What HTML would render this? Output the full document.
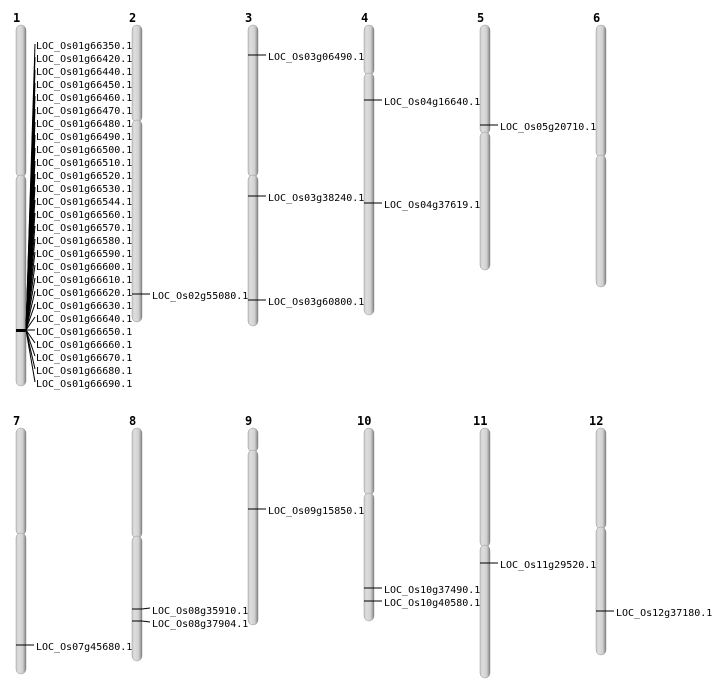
<!DOCTYPE html>
<html><head><meta charset="utf-8"><style>
html,body{margin:0;padding:0;background:#fff;}
svg{display:block}
text{font-family:"DejaVu Sans Mono","Liberation Mono",monospace;font-size:10px;fill:#000}
.n{font-weight:bold;font-size:12px}
.c{fill:url(#g);stroke:#999;stroke-width:0.5}
line{stroke:#000;stroke-width:1}
</style></head><body>
<svg width="712" height="700" viewBox="0 0 712 700" xmlns="http://www.w3.org/2000/svg">
<defs><linearGradient id="g" x1="0" x2="1" y1="0" y2="0">
<stop offset="0" stop-color="#c8c8c8"/><stop offset="0.25" stop-color="#dedede"/><stop offset="0.65" stop-color="#d2d2d2"/><stop offset="0.85" stop-color="#a8a8a8"/><stop offset="1" stop-color="#707070"/></linearGradient></defs>
<!-- numbers -->
<text class="n" x="13" y="22">1</text><text class="n" x="129" y="22">2</text><text class="n" x="245" y="22">3</text><text class="n" x="361" y="22">4</text><text class="n" x="477" y="22">5</text><text class="n" x="593" y="22">6</text>
<text class="n" x="13" y="425">7</text><text class="n" x="129" y="425">8</text><text class="n" x="245" y="425">9</text><text class="n" x="357" y="425">10</text><text class="n" x="473" y="425">11</text><text class="n" x="589" y="425">12</text>
<!-- chromosomes -->
<rect class="c" x="16" y="25" width="10" height="152" rx="5"/><rect class="c" x="16" y="175" width="10" height="211" rx="5"/>
<rect class="c" x="132" y="25" width="10" height="97" rx="5"/><rect class="c" x="132" y="120" width="10" height="202" rx="5"/>
<rect class="c" x="248" y="25" width="10" height="152" rx="5"/><rect class="c" x="248" y="175" width="10" height="151" rx="5"/>
<rect class="c" x="364" y="25" width="10" height="50" rx="5"/><rect class="c" x="364" y="73" width="10" height="242" rx="5"/>
<rect class="c" x="480" y="25" width="10" height="109" rx="5"/><rect class="c" x="480" y="132" width="10" height="138" rx="5"/>
<rect class="c" x="596" y="25" width="10" height="132" rx="5"/><rect class="c" x="596" y="155" width="10" height="132" rx="5"/>
<rect class="c" x="16" y="428" width="10" height="107" rx="5"/><rect class="c" x="16" y="533" width="10" height="141" rx="5"/>
<rect class="c" x="132" y="428" width="10" height="110" rx="5"/><rect class="c" x="132" y="536" width="10" height="125" rx="5"/>
<rect class="c" x="248" y="428" width="10" height="24" rx="5"/><rect class="c" x="248" y="450" width="10" height="175" rx="5"/>
<rect class="c" x="364" y="428" width="10" height="67" rx="5"/><rect class="c" x="364" y="493" width="10" height="128" rx="5"/>
<rect class="c" x="480" y="428" width="10" height="119" rx="5"/><rect class="c" x="480" y="545" width="10" height="133" rx="5"/>
<rect class="c" x="596" y="428" width="10" height="101" rx="5"/><rect class="c" x="596" y="527" width="10" height="128" rx="5"/>
<!-- chr1 fan -->
<rect x="16" y="329" width="11" height="3" fill="#000"/>
<g>
<line x1="26" y1="330" x2="35" y2="44"/><line x1="26" y1="330" x2="35" y2="57"/><line x1="26" y1="330" x2="35" y2="70"/><line x1="26" y1="330" x2="35" y2="83"/><line x1="26" y1="330" x2="35" y2="96"/><line x1="26" y1="330" x2="35" y2="109"/><line x1="26" y1="330" x2="35" y2="122"/><line x1="26" y1="330" x2="35" y2="135"/><line x1="26" y1="330" x2="35" y2="148"/><line x1="26" y1="330" x2="35" y2="161"/><line x1="26" y1="330" x2="35" y2="174"/><line x1="26" y1="330" x2="35" y2="187"/><line x1="26" y1="330" x2="35" y2="200"/><line x1="26" y1="330" x2="35" y2="213"/><line x1="26" y1="330" x2="35" y2="226"/><line x1="26" y1="330" x2="35" y2="239"/><line x1="26" y1="330" x2="35" y2="252"/><line x1="26" y1="330" x2="35" y2="265"/><line x1="26" y1="330" x2="35" y2="278"/><line x1="26" y1="330" x2="35" y2="291"/><line x1="26" y1="330" x2="35" y2="304"/><line x1="26" y1="330" x2="35" y2="317"/><line x1="26" y1="330" x2="35" y2="330"/><line x1="26" y1="330" x2="35" y2="343"/><line x1="26" y1="330" x2="35" y2="356"/><line x1="26" y1="330" x2="35" y2="369"/><line x1="26" y1="330" x2="35" y2="382"/>
</g>
<g>
<text x="36" y="49">LOC_Os01g66350.1</text><text x="36" y="62">LOC_Os01g66420.1</text><text x="36" y="75">LOC_Os01g66440.1</text><text x="36" y="88">LOC_Os01g66450.1</text><text x="36" y="101">LOC_Os01g66460.1</text><text x="36" y="114">LOC_Os01g66470.1</text><text x="36" y="127">LOC_Os01g66480.1</text><text x="36" y="140">LOC_Os01g66490.1</text><text x="36" y="153">LOC_Os01g66500.1</text><text x="36" y="166">LOC_Os01g66510.1</text><text x="36" y="179">LOC_Os01g66520.1</text><text x="36" y="192">LOC_Os01g66530.1</text><text x="36" y="205">LOC_Os01g66544.1</text><text x="36" y="218">LOC_Os01g66560.1</text><text x="36" y="231">LOC_Os01g66570.1</text><text x="36" y="244">LOC_Os01g66580.1</text><text x="36" y="257">LOC_Os01g66590.1</text><text x="36" y="270">LOC_Os01g66600.1</text><text x="36" y="283">LOC_Os01g66610.1</text><text x="36" y="296">LOC_Os01g66620.1</text><text x="36" y="309">LOC_Os01g66630.1</text><text x="36" y="322">LOC_Os01g66640.1</text><text x="36" y="335">LOC_Os01g66650.1</text><text x="36" y="348">LOC_Os01g66660.1</text><text x="36" y="361">LOC_Os01g66670.1</text><text x="36" y="374">LOC_Os01g66680.1</text><text x="36" y="387">LOC_Os01g66690.1</text>
</g>
<!-- other markers -->
<g>
<line x1="132" y1="294" x2="150" y2="294"/><text x="152" y="299">LOC_Os02g55080.1</text>
<line x1="248" y1="55" x2="266" y2="55"/><text x="268" y="60">LOC_Os03g06490.1</text>
<line x1="248" y1="196" x2="266" y2="196"/><text x="268" y="201">LOC_Os03g38240.1</text>
<line x1="248" y1="300" x2="266" y2="300"/><text x="268" y="305">LOC_Os03g60800.1</text>
<line x1="364" y1="100" x2="382" y2="100"/><text x="384" y="105">LOC_Os04g16640.1</text>
<line x1="364" y1="203" x2="382" y2="203"/><text x="384" y="208">LOC_Os04g37619.1</text>
<line x1="480" y1="125" x2="498" y2="125"/><text x="500" y="130">LOC_Os05g20710.1</text>
<line x1="16" y1="645" x2="34" y2="645"/><text x="36" y="650">LOC_Os07g45680.1</text>
<line x1="132" y1="609" x2="142" y2="609"/><line x1="142" y1="609" x2="150" y2="608"/><text x="152" y="614">LOC_Os08g35910.1</text>
<line x1="132" y1="621" x2="142" y2="621"/><line x1="142" y1="621" x2="150" y2="622"/><text x="152" y="627">LOC_Os08g37904.1</text>
<line x1="248" y1="509" x2="266" y2="509"/><text x="268" y="514">LOC_Os09g15850.1</text>
<line x1="364" y1="588" x2="382" y2="588"/><text x="384" y="593">LOC_Os10g37490.1</text>
<line x1="364" y1="601" x2="382" y2="601"/><text x="384" y="606">LOC_Os10g40580.1</text>
<line x1="480" y1="563" x2="498" y2="563"/><text x="500" y="568">LOC_Os11g29520.1</text>
<line x1="596" y1="611" x2="614" y2="611"/><text x="616" y="616">LOC_Os12g37180.1</text>
</g>
</svg>
</body></html>
